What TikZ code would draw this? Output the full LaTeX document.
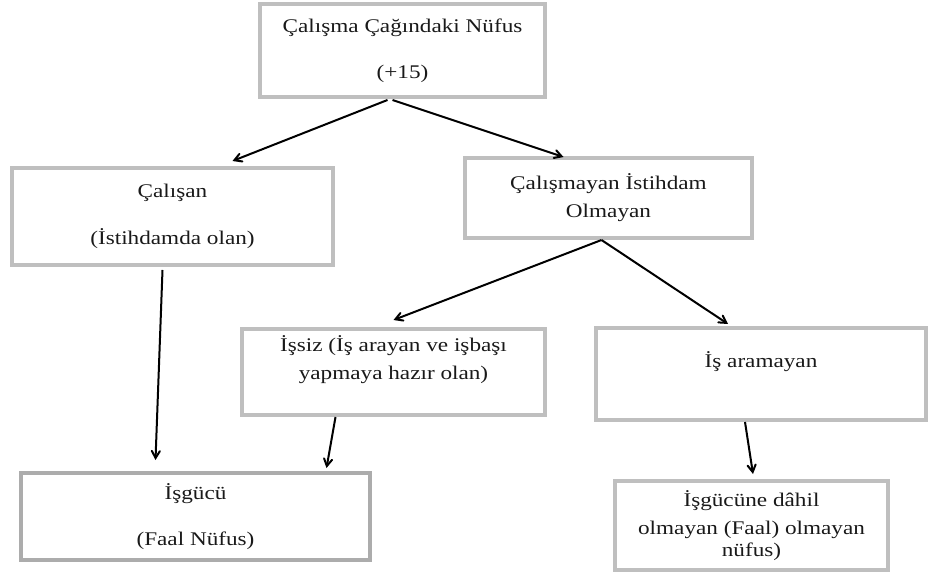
\documentclass[tikz,border=0pt]{standalone}
\usepackage{fontspec}
\setmainfont{Liberation Serif}[FakeStretch=1.2]
\usetikzlibrary{arrows,calc}

\begin{document}
\begin{tikzpicture}[x=0.75pt,y=-0.75pt,>=angle 60,
  kutu/.style 2 args={draw=gray!50, line width=3pt, align=center,
    minimum width=#1*0.75pt, minimum height=#2*0.75pt,
    font=\fontsize{14.5}{21}\selectfont, text=black!90},
  ok/.style={->, line width=1.5pt}]
\useasboundingbox (0,0) rectangle (928,573);
  % kutular
  \node[kutu={285}{93}] (nufus) at (402.5,50.5) {Çalışma Çağındaki Nüfus\\[13.5pt](+15)};
  \node[kutu={321}{97}] (calisan) at (172.5,216.5) {Çalışan\\[14pt](İstihdamda olan)};
  \node[kutu={287}{80}] (calismayan) at (608.5,198) {Çalışmayan İstihdam\\Olmayan};
  \node[kutu={303}{86}, text depth=21pt] (issiz) at (393.5,372) {İşsiz (İş arayan ve işbaşı\\yapmaya hazır olan)};
  \node[kutu={330}{92}, text depth=21pt] (isaramayan) at (761,374) {İş aramayan};
  \node[kutu={349}{87}, draw=gray!65] (isgucu) at (195.5,516.5) {İşgücü\\[13pt](Faal Nüfus)};
  \node[kutu={273}{89}] (disi) at (751.5,525.5) {İşgücüne dâhil\\olmayan (Faal) olmayan\\[-4pt]nüfus)};
  % oklar
  \draw[ok] ($(nufus.south)+(-15,1)$) -- ($(calisan.north)+(60,-5)$);
  \draw[ok] ($(nufus.south)+(-10,1)$) -- ($(calismayan.north)+(-45,1)$);
  \draw[ok] ($(calisan.south)+(-10,3)$) -- ($(isgucu.north)+(-40,-11)$);
  \draw[ok] ($(calismayan.south)+(-7,0)$) -- ($(issiz.north)+(0,-7)$);
  \draw[ok] ($(calismayan.south)+(-7,0)$) -- ($(isaramayan.north)+(-33,-2)$);
  \draw[ok] ($(issiz.south)+(-58,0)$) -- ($(isgucu.north)+(131,-3)$);
  \draw[ok] ($(isaramayan.south)+(-16,0)$) -- ($(disi.north)+(1.5,-5)$);
\end{tikzpicture}
\end{document}
